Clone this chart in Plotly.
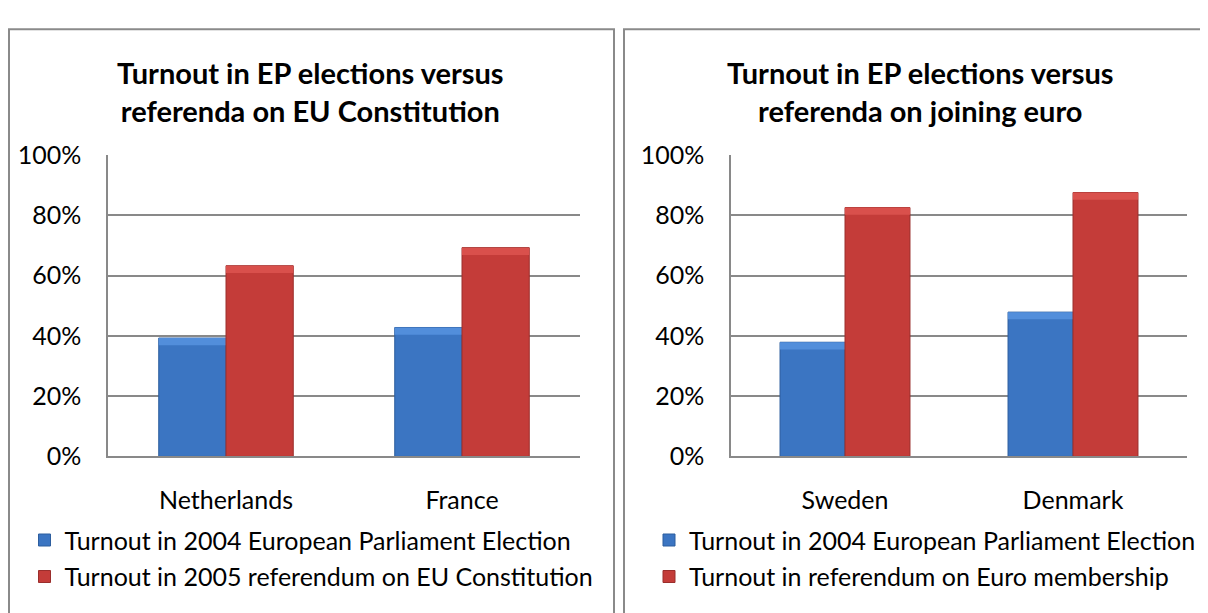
import plotly.graph_objects as go

# ---- data ----
left_categories = ["Netherlands", "France"]
left_ep2004 = [39.3, 42.8]
left_referendum = [63.3, 69.3]
left_series_names = ["Turnout in 2004 European Parliament Election",
                     "Turnout in 2005 referendum on EU Constitution"]
left_title = "Turnout in EP elections versus<br>referenda on EU Constitution"

right_categories = ["Sweden", "Denmark"]
right_ep2004 = [37.9, 47.9]
right_referendum = [82.6, 87.6]
right_series_names = ["Turnout in 2004 European Parliament Election",
                      "Turnout in referendum on Euro membership"]
right_title = "Turnout in EP elections versus<br>referenda on joining euro"

y_tick_values = [0, 20, 40, 60, 80, 100]
y_tick_labels = ["0%", "20%", "40%", "60%", "80%", "100%"]

# ---- styling ----
W, H = 1200, 605          # page body has an 8px margin
OFF = 8
BLUE = "#3B75C2"
BLUE_TOP = "#528EDB"
BLUE_LINE = "#2D5E9E"
RED = "#C43C39"
RED_TOP = "#D9504C"
RED_LINE = "#9A2E2C"
GRID = "#898989"
FONT = "Lato"
CAP = 2.4  # height of the lighter bevel strip, in axis units


def px(x):
    return (x - OFF) / W


def py(y):
    return (H - (y - OFF)) / H


fig = go.Figure()


def add_series(cats, vals, name, color, top, line, xa, ya, leg, grp):
    fig.add_trace(go.Bar(x=cats, y=vals, name=name, offsetgroup=grp,
                         marker=dict(color=color, line=dict(color=line, width=1)),
                         xaxis=xa, yaxis=ya, legend=leg, legendgroup=grp))
    fig.add_trace(go.Bar(x=cats, y=[CAP] * len(vals), base=[v - CAP for v in vals],
                         offsetgroup=grp, showlegend=False, hoverinfo="skip",
                         marker=dict(color=top, line=dict(width=0)),
                         xaxis=xa, yaxis=ya, legend=leg, legendgroup=grp))


add_series(left_categories, left_ep2004, left_series_names[0], BLUE, BLUE_TOP, BLUE_LINE,
           "x", "y", "legend", "L1")
add_series(left_categories, left_referendum, left_series_names[1], RED, RED_TOP, RED_LINE,
           "x", "y", "legend", "L2")
add_series(right_categories, right_ep2004, right_series_names[0], BLUE, BLUE_TOP, BLUE_LINE,
           "x2", "y2", "legend2", "R1")
add_series(right_categories, right_referendum, right_series_names[1], RED, RED_TOP, RED_LINE,
           "x2", "y2", "legend2", "R2")

y_dom = [py(463), py(146)]
tick_font = dict(family=FONT, size=25, color="black")
common_x = dict(showgrid=False, showline=True, linecolor=GRID, linewidth=1.5,
                ticks="", tickfont=tick_font, ticklabelstandoff=21, fixedrange=True)
common_y = dict(range=[0, 100], tickmode="array", tickvals=y_tick_values, ticktext=y_tick_labels,
                showgrid=True, gridcolor=GRID, gridwidth=1.5, showline=True, linecolor=GRID,
                linewidth=1.5, zeroline=False, ticks="", tickfont=tick_font,
                ticklabelstandoff=20, fixedrange=True)

legend_common = dict(font=dict(family=FONT, size=25, color="black"),
                     bgcolor="rgba(0,0,0,0)", orientation="v",
                     xanchor="left", yanchor="top", tracegroupgap=1,
                     itemclick=False, itemdoubleclick=False)

title_font = dict(family=FONT, size=29, color="black")
annotations = [
    dict(text="<b>" + left_title + "</b>", x=px(310), y=py(79), xref="paper", yref="paper",
         xanchor="center", yanchor="middle", showarrow=False, font=title_font),
    dict(text="<b>" + right_title + "</b>", x=px(920), y=py(79), xref="paper", yref="paper",
         xanchor="center", yanchor="middle", showarrow=False, font=title_font),
]

fig.update_layout(
    width=W, height=H,
    margin=dict(l=0, r=0, t=0, b=0),
    paper_bgcolor="white", plot_bgcolor="white",
    barmode="group", bargap=0.43, bargroupgap=0,
    showlegend=True,
    xaxis=dict(domain=[px(108), px(580)], anchor="y", **common_x),
    yaxis=dict(domain=y_dom, anchor="x", **common_y),
    xaxis2=dict(domain=[px(731), px(1187)], anchor="y2", **common_x),
    yaxis2=dict(domain=y_dom, anchor="x2", **common_y),
    legend=dict(x=px(24.5), y=py(527), **legend_common),
    legend2=dict(x=px(649), y=py(527), **legend_common),
    annotations=annotations,
    shapes=[
        dict(type="rect", xref="paper", yref="paper", x0=px(9), x1=px(614), y0=-0.1, y1=py(13.5),
             line=dict(color="#8A8A8A", width=2), layer="below"),
        dict(type="rect", xref="paper", yref="paper", x0=px(624), x1=px(1216), y0=-0.1, y1=py(13.5),
             line=dict(color="#8A8A8A", width=2), layer="below"),
    ],
)

fig.write_html("out.html")
